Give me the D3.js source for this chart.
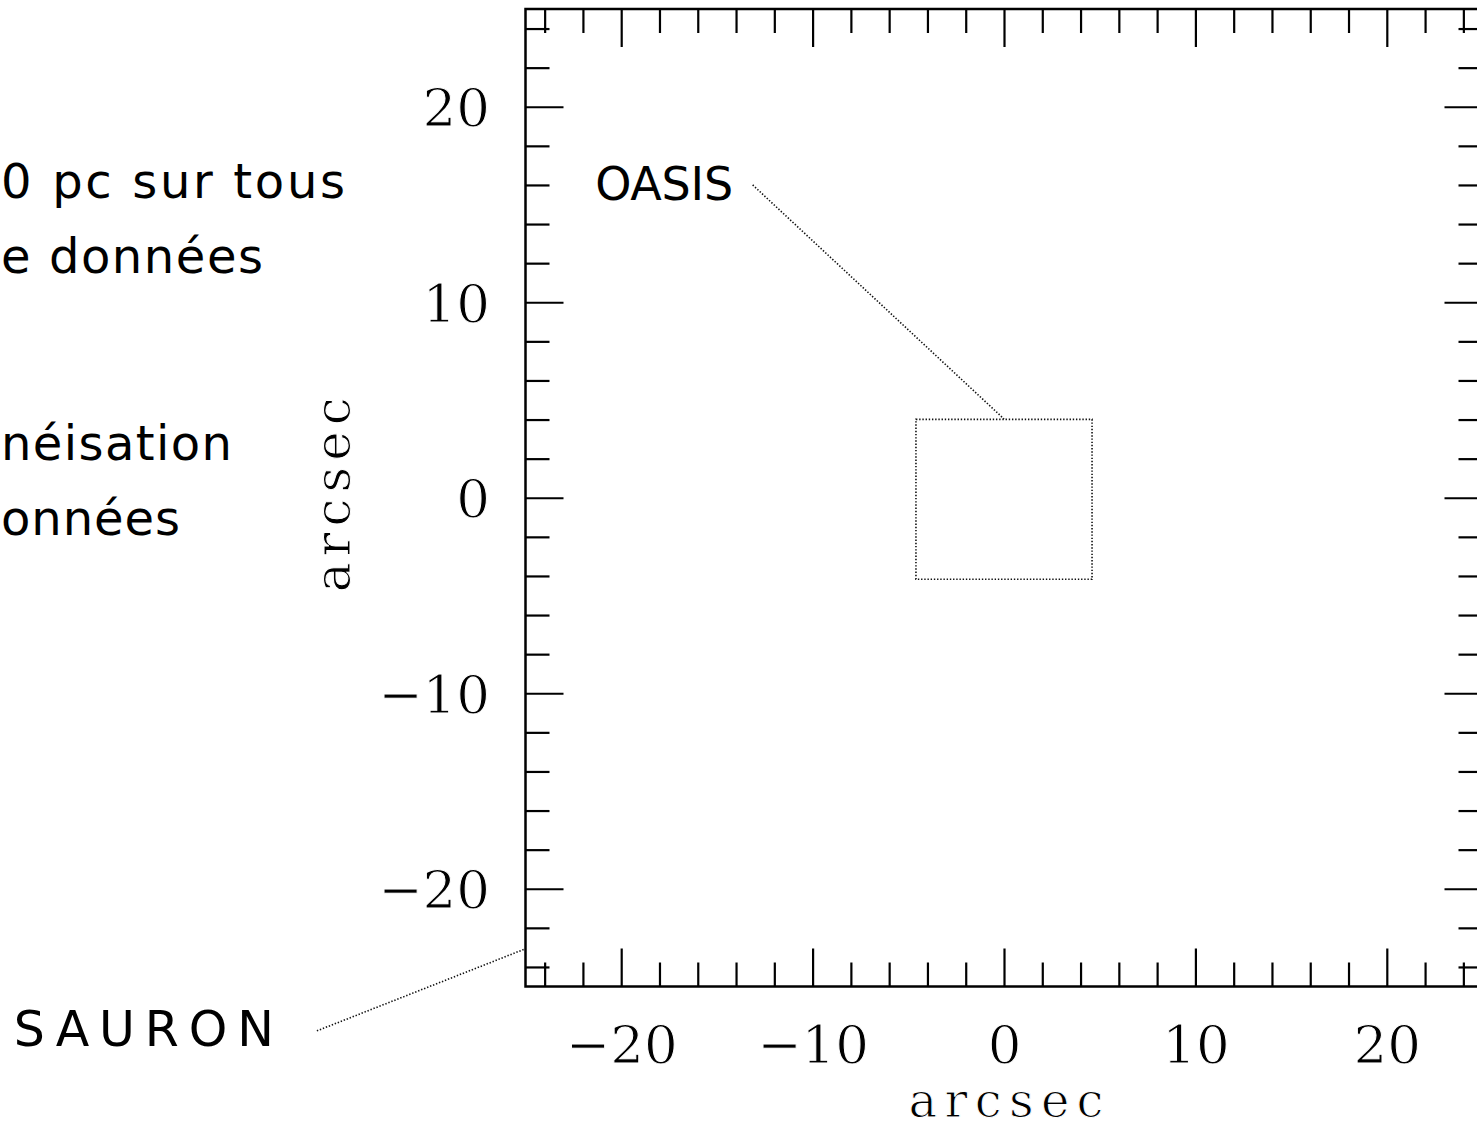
<!DOCTYPE html>
<html><head><meta charset="utf-8">
<script src="https://cdn.jsdelivr.net/npm/d3@7"></script>
<style>html,body{margin:0;padding:0;background:#fff;overflow:hidden}</style>
</head><body><svg id="c" width="1477" height="1129" style="display:block;background:#fff"></svg>
<script>
// ---- data ----
const xDomain = [-25, 25];
const yDomain = [-25, 25];
const majorTicks = [-20, -10, 0, 10, 20];
const minorTicks = [-24, -22, -18, -16, -14, -12, -8, -6, -4, -2, 2, 4, 6, 8, 12, 14, 16, 18, 22, 24];
const axisTitles = ["arcsec", "arcsec"];
const fovNames = ["OASIS", "SAURON"];
const oasisBoxX = [-4.6, 4.6];
const oasisBoxY = [-4.17, 4.01];
const fovLabelX = [-14.15, -38.15];
const fovLabelY = [15.23, -28.04];
const leaderStartX = [-13.13, -35.9];
const leaderStartY = [16.0, -27.27];
const leaderEndX = [0, -25.08];
const leaderEndY = [4.03, -23.1];
const sideText = ["0 pc sur tous", "e données", "néisation", "onnées"];

// ---- layout ----
const svg = d3.select("#c");
const M = {left: 525.5, right: 1482.5, top: 9, bottom: 986.5};
const x = d3.scaleLinear().domain(xDomain).range([M.left, M.right]);
const y = d3.scaleLinear().domain(yDomain).range([M.bottom, M.top]);
const serif = "'DejaVu Serif', 'Liberation Serif', serif";
const hand = "'DejaVu Sans', 'Noto Sans', sans-serif";
const fmt = d3.format("d");
const MAJ = 38, MIN = 24;

function axisGroup(gen, tr, ticks, size, labels) {
  const g = svg.append("g").attr("transform", tr)
    .call(gen.tickValues(ticks).tickSizeInner(-size).tickSizeOuter(0)
      .tickFormat(labels ? fmt : () => ""));
  g.select(".domain").remove();
  g.selectAll(".tick line").attr("stroke", "#000").attr("stroke-width", 2.2);
  return g;
}

// bottom
const gb = axisGroup(d3.axisBottom(x), `translate(0,${M.bottom})`, majorTicks, MAJ, true);
axisGroup(d3.axisBottom(x), `translate(0,${M.bottom})`, minorTicks, MIN, false);
gb.selectAll(".tick text").attr("y", 76.5).attr("dy", 0)
  .attr("font-family", serif).attr("font-size", 53).attr("fill", "#000");
// top
axisGroup(d3.axisTop(x), `translate(0,${M.top})`, majorTicks, MAJ, false);
axisGroup(d3.axisTop(x), `translate(0,${M.top})`, minorTicks, MIN, false);
// left
const gl = axisGroup(d3.axisLeft(y), `translate(${M.left},0)`, majorTicks, MAJ, true);
axisGroup(d3.axisLeft(y), `translate(${M.left},0)`, minorTicks, MIN, false);
gl.selectAll(".tick text").attr("x", -35.5).attr("dy", "0.36em")
  .attr("font-family", serif).attr("font-size", 53).attr("fill", "#000");
// right
axisGroup(d3.axisRight(y), `translate(${M.right},0)`, majorTicks, MAJ, false);
axisGroup(d3.axisRight(y), `translate(${M.right},0)`, minorTicks, MIN, false);

svg.selectAll("g text").attr("stroke", "#fff").attr("stroke-width", 1.0).attr("paint-order", "normal");

// frame
svg.append("rect")
  .attr("x", x(xDomain[0])).attr("y", y(yDomain[1]))
  .attr("width", x(xDomain[1]) - x(xDomain[0]))
  .attr("height", y(yDomain[0]) - y(yDomain[1]))
  .attr("fill", "none").attr("stroke", "#000").attr("stroke-width", 2.5);

// axis titles
svg.append("text").text(axisTitles[0])
  .attr("x", 1006).attr("y", 1117)
  .attr("text-anchor", "middle").attr("font-family", serif).attr("font-size", 48)
  .attr("textLength", 195).attr("lengthAdjust", "spacing")
  .attr("stroke", "#fff").attr("stroke-width", 1.0).attr("paint-order", "normal");
svg.append("text").text(axisTitles[1])
  .attr("transform", `translate(350,${(y(-25) + y(25)) / 2 - 3}) rotate(-90)`)
  .attr("text-anchor", "middle").attr("font-family", serif).attr("font-size", 50)
  .attr("textLength", 195).attr("lengthAdjust", "spacing")
  .attr("stroke", "#fff").attr("stroke-width", 1.0).attr("paint-order", "normal");

// OASIS field
svg.append("rect")
  .attr("x", x(oasisBoxX[0])).attr("y", y(oasisBoxY[1]))
  .attr("width", x(oasisBoxX[1]) - x(oasisBoxX[0]))
  .attr("height", y(oasisBoxY[0]) - y(oasisBoxY[1]))
  .attr("fill", "none").attr("stroke", "#111").attr("stroke-width", 1.6)
  .attr("stroke-dasharray", "1.4,1.8");

// leader lines
fovNames.forEach((n, i) => {
  svg.append("line")
    .attr("x1", x(leaderStartX[i])).attr("y1", y(leaderStartY[i]))
    .attr("x2", x(leaderEndX[i])).attr("y2", y(leaderEndY[i]))
    .attr("stroke", "#111").attr("stroke-width", 1.6).attr("stroke-dasharray", "1.4,1.8");
});

// labels
const labelLen = [138, 260];
const labelSize = [46, 49];
fovNames.forEach((n, i) => {
  svg.append("text").text(n)
    .attr("x", x(fovLabelX[i])).attr("y", y(fovLabelY[i]))
    .attr("text-anchor", "end").attr("font-family", hand).attr("font-size", labelSize[i])
    .attr("textLength", labelLen[i]).attr("lengthAdjust", "spacing").attr("fill", "#000");
});

// cropped slide text on the left
const sideEnd = [345, 263, 232, 180];
const sideBase = [198, 273, 460, 535];
sideText.forEach((t, i) => {
  svg.append("text").text(t)
    .attr("x", 1).attr("y", sideBase[i])
    .attr("font-family", hand).attr("font-size", 48)
    .attr("textLength", sideEnd[i] - 1).attr("lengthAdjust", "spacing").attr("fill", "#000");
});
</script>
</body></html>
